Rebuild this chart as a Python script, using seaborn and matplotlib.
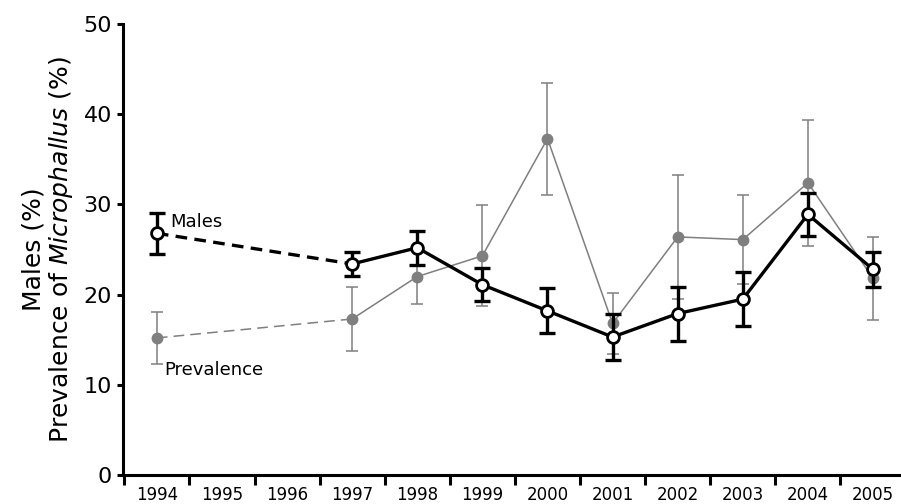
import matplotlib
matplotlib.use("Agg")
import matplotlib.pyplot as plt
import seaborn as sns
import pandas as pd
from matplotlib.ticker import FixedLocator

years = [1994, 1995, 1996, 1997, 1998, 1999, 2000, 2001, 2002, 2003, 2004, 2005]
obs_years = [1994, 1997, 1998, 1999, 2000, 2001, 2002, 2003, 2004, 2005]
males = [26.8, 23.4, 25.2, 21.1, 18.2, 15.3, 17.9, 19.5, 28.9, 22.8]
males_err = [2.3, 1.3, 1.9, 1.8, 2.5, 2.5, 3.0, 3.0, 2.35, 1.9]
prev = [15.2, 17.3, 22.0, 24.3, 37.3, 16.8, 26.4, 26.1, 32.4, 21.8]
prev_err = [2.9, 3.6, 3.0, 5.6, 6.2, 3.4, 6.9, 4.9, 7.0, 4.6]

sns.set_style("ticks", {"axes.edgecolor": "black", "xtick.color": "black",
                        "ytick.color": "black", "text.color": "black",
                        "axes.labelcolor": "black"})
plt.rcParams['font.family'] = ['DejaVu Sans']

df = pd.DataFrame({"year": obs_years, "males": males, "males_err": males_err,
                   "prev": prev, "prev_err": prev_err})
gap = df[df.year <= 1997]
cont = df[df.year >= 1997]

fig = plt.figure(figsize=(9.01, 5.04), dpi=100)
ax = fig.add_axes([0.1365, 0.0575, 0.8635, 0.8948])

gray = "#7f7f7f"
# Prevalence
ax.errorbar(df.year, df.prev, yerr=df.prev_err, fmt="none", ecolor=gray,
            elinewidth=1.1, capsize=4.5, capthick=1.1, zorder=2)
sns.lineplot(data=gap, x="year", y="prev", ax=ax, color=gray, lw=1.1,
             linestyle=(0, (7, 4)), zorder=2)
sns.lineplot(data=cont, x="year", y="prev", ax=ax, color=gray, lw=1.1, zorder=2)
ax.plot(df.year, df.prev, "o", color=gray, ms=7.5, mec=gray, zorder=3)

# Males
ax.errorbar(df.year, df.males, yerr=df.males_err, fmt="none", ecolor="black",
            elinewidth=2.4, capsize=5.5, capthick=2.4, zorder=4)
sns.lineplot(data=gap, x="year", y="males", ax=ax, color="black", lw=2.4,
             linestyle=(0, (3.5, 2.2)), zorder=4)
sns.lineplot(data=cont, x="year", y="males", ax=ax, color="black", lw=2.4, zorder=4)
ax.plot(df.year, df.males, "o", color="white", ms=8.5, mec="black", mew=2.0, zorder=5)

ax.text(1994.2, 28.1, "Males", fontsize=13, va="center", ha="left")
ax.text(1994.12, 11.6, "Prevalence", fontsize=13, va="center", ha="left")

ax.set_xlim(1993.48, 2005.43)
ax.set_ylim(0, 50)
ax.set_yticks([0, 10, 20, 30, 40, 50])
ax.tick_params(axis="y", labelsize=16, length=4, width=2.2, direction="out", pad=4)
ax.set_xticks(years)
ax.set_xticklabels([str(y) for y in years])
ax.tick_params(axis="x", which="major", length=0, labelsize=12, pad=8)
ax.xaxis.set_minor_locator(FixedLocator([y - 0.5 for y in years]))
ax.tick_params(axis="x", which="minor", length=7.5, width=2.2, direction="out")

ax.set_xlabel("")
ax.set_ylabel("Males (%)\nPrevalence of $\\it{Microphallus}$ (%)", fontsize=18,
              labelpad=6, linespacing=1.05)

sns.despine(ax=ax)
for s in ["left", "bottom"]:
    ax.spines[s].set_linewidth(2.2)

fig.savefig("out.png", dpi=100)
